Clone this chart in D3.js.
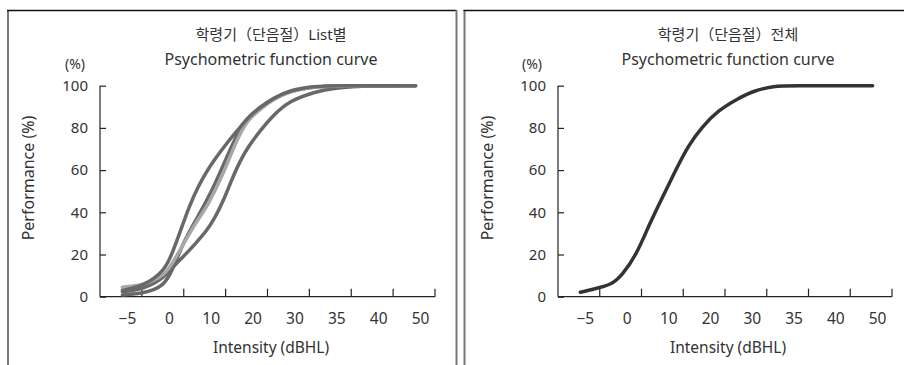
<!DOCTYPE html>
<html>
<head>
<meta charset="utf-8">
<script src="https://cdn.jsdelivr.net/npm/d3@7"></script>
<style>
  html, body { margin: 0; padding: 0; background: #fff; }
  svg { display: block; }
  text { font-family: "Noto Sans", "Noto Sans CJK KR", sans-serif; fill: #333; }
</style>
</head>
<body>
<svg id="chart" width="904" height="365"></svg>
<script>
// ---- data ----
const xLabels = ["−5", "0", "10", "20", "30", "35", "40", "50"];
const xValues = [-5, 0, 10, 20, 30, 35, 40, 50];
const yTicks = [0, 20, 40, 60, 80, 100];

const leftTitle = "학령기（단음절）List별";
const rightTitle = "학령기（단음절）전체";
const subTitle = "Psychometric function curve";

// Left panel: four list curves [dBHL, %]
const listA = [[-5,3],[-2.5,5],[0,12],[2,21],[4,32],[6,43],[8,52],[10,59],[12,65],[15,73],[18,80],[20,85],[23,90],[26,94],[30,98],[33,99.7],[35,100],[50,100]];
const listB = [[-5,0.8],[-2.5,1.5],[0,5],[2,13],[4,23],[6,31],[8,38],[10,45],[12,53],[14,62],[16,71],[18,79],[20,85],[23,90],[26,94],[30,97.5],[33,99.5],[35,100],[50,100]];
const listC = [[-5,4.5],[-2.5,5.5],[0,10],[2,16],[4,23],[6,30],[8,36.5],[10,42],[12,50],[14,58],[16,68],[18,77],[20,84],[23,89],[26,93.5],[30,97.5],[33,99.5],[35,100],[50,100]];
const listD = [[-5,2.4],[-2.5,3.5],[0,9],[2,14],[4,18],[6,22],[8,26.5],[10,31],[12,37],[14,45],[16,55],[18,64],[20,71],[23,79],[26,86],[30,93],[33,97],[35,99],[40,100],[50,100]];
const leftColors = ["#686868", "#686868", "#a8a8a8", "#686868"];

// Right panel: overall curve
const total = [[-5,2.1],[-2.5,4.4],[-1.1,6.3],[0,10.3],[3.4,19.7],[6.6,34.7],[9.7,47.3],[12.8,59.9],[15.9,71.8],[19.1,80.4],[23,88.3],[27.7,93.9],[30.9,97.8],[33.2,99.8],[35,100],[50,100]];

// ---- drawing ----
const svg = d3.select("#chart");

function frame(x0, x1, showRight) {
  svg.append("line").attr("x1", x0).attr("x2", x0).attr("y1", 10).attr("y2", 365)
    .attr("stroke", "#777").attr("stroke-width", 2);
  svg.append("line").attr("x1", x0 - 1).attr("x2", x1).attr("y1", 10.5).attr("y2", 10.5)
    .attr("stroke", "#111").attr("stroke-width", 1.5);
  if (showRight) {
    svg.append("line").attr("x1", x1).attr("x2", x1).attr("y1", 10).attr("y2", 365)
      .attr("stroke", "#777").attr("stroke-width", 2);
  }
}
frame(8, 456.5, true);
frame(464.5, 904, false);

function panel(opt) {
  const g = svg.append("g");
  const band = d3.scaleBand().domain(xLabels).range([opt.x0, opt.x1]).padding(0);
  const centers = xLabels.map(l => band(l) + band.bandwidth() / 2 + 1.5);
  const x = d3.scaleLinear().domain(xValues).range(centers);
  const y = d3.scaleLinear().domain([0, 100]).range([296.7, 85.7]);

  // y axis
  const yAxis = g.append("g").attr("transform", `translate(${opt.x0},0)`)
    .call(d3.axisRight(y).tickValues(yTicks).tickSize(6).tickFormat(""));
  yAxis.select(".domain").attr("d", `M0,${y(100)}V${y(0)}`);
  yAxis.selectAll("line, path").attr("stroke", "#222").attr("stroke-width", 1.2);
  g.selectAll(".ylab").data(yTicks).enter().append("text")
    .attr("x", opt.x0 - 12).attr("y", d => y(d)).attr("dy", "0.35em")
    .attr("text-anchor", "end").attr("font-size", 15).text(d => d);

  // x axis: ticks at band boundaries
  const bounds = xLabels.map(l => band(l) + band.bandwidth());
  const xAxisG = g.append("g");
  xAxisG.append("line").attr("x1", opt.x0).attr("x2", opt.x1).attr("y1", y(0)).attr("y2", y(0))
    .attr("stroke", "#222").attr("stroke-width", 1.2);
  xAxisG.selectAll(".xt").data(bounds).enter().append("line")
    .attr("x1", d => d).attr("x2", d => d).attr("y1", y(0)).attr("y2", y(0) - 8)
    .attr("stroke", "#222").attr("stroke-width", 1.2);
  g.selectAll(".xlab").data(xLabels).enter().append("text")
    .attr("x", (d, i) => x(xValues[i]) + 5).attr("y", 319).attr("dy", "0.35em")
    .attr("text-anchor", "middle").attr("font-size", 15.5).text(d => d);

  // labels
  g.append("text").attr("x", opt.pctX).attr("y", 64).attr("dy", "0.35em")
    .attr("text-anchor", "middle").attr("font-size", 14).text("(%)");
  g.append("text").attr("transform", `translate(${opt.perfX},178) rotate(-90)`)
    .attr("dy", "0.35em").attr("text-anchor", "middle").attr("font-size", 16).text("Performance (%)");
  g.append("text").attr("x", opt.titleX).attr("y", 348).attr("dy", "0.35em")
    .attr("text-anchor", "middle").attr("font-size", 15.5).text("Intensity (dBHL)");
  g.append("text").attr("x", opt.titleX).attr("y", 35).attr("dy", "0.35em")
    .attr("text-anchor", "middle").attr("font-size", 15).text(opt.title);
  g.append("text").attr("x", opt.titleX).attr("y", 59).attr("dy", "0.35em")
    .attr("text-anchor", "middle").attr("font-size", 16).text(subTitle);

  // curves
  const line = d3.line().x(d => x(d[0])).y(d => y(d[1])).curve(d3.curveBasis);
  opt.series.forEach((s, i) => {
    g.append("path").datum(s).attr("d", line).attr("fill", "none")
      .attr("stroke", opt.colors[i]).attr("stroke-width", 3.5)
      .attr("stroke-linecap", "round").attr("stroke-linejoin", "round");
  });
}

panel({ x0: 100, x1: 435, pctX: 75, perfX: 28, titleX: 271, title: leftTitle,
        series: [listD, listB, listC, listA], colors: [leftColors[3], leftColors[1], leftColors[2], leftColors[0]] });
panel({ x0: 558, x1: 892, pctX: 532, perfX: 487, titleX: 728, title: rightTitle,
        series: [total], colors: ["#333333"] });
</script>
</body>
</html>
